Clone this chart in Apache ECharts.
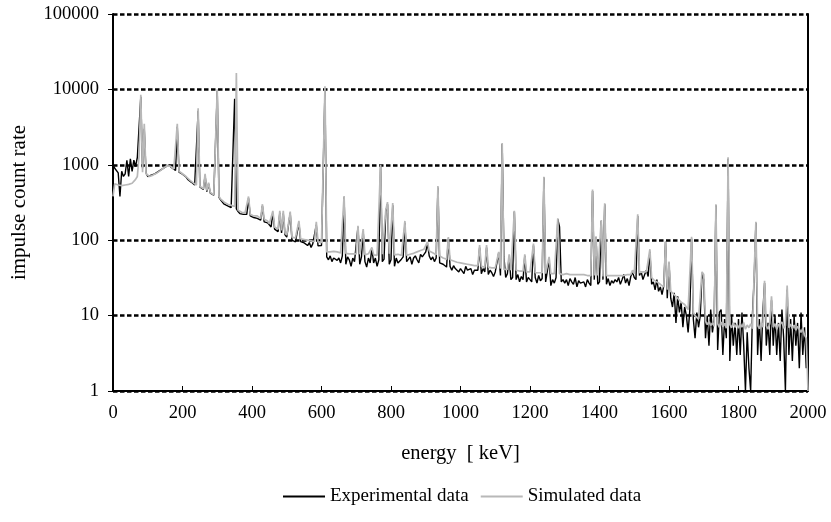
<!DOCTYPE html>
<html><head><meta charset="utf-8">
<script src="https://cdn.jsdelivr.net/npm/echarts@6/dist/echarts.min.js"></script>
<style>html,body{margin:0;padding:0;background:#fff}#c{width:831px;height:522px}</style>
</head><body><div id="c"></div><script>
const energy = [
0,5,10,15,20,25,30,35,40,45,
50,55,60,65,70,75,80,85,90,95,
100,105,110,115,120,125,130,135,140,145,
150,155,160,165,170,175,180,185,190,195,
200,205,210,215,220,225,230,235,240,245,
250,255,260,265,270,275,280,285,290,295,
300,305,310,315,320,325,330,335,340,345,
350,355,360,365,370,375,380,385,390,395,
400,405,410,415,420,425,430,435,440,445,
450,455,460,465,470,475,480,485,490,495,
500,505,510,515,520,525,530,535,540,545,
550,555,560,565,570,575,580,585,590,595,
600,605,610,615,620,625,630,635,640,645,
650,655,660,665,670,675,680,685,690,695,
700,705,710,715,720,725,730,735,740,745,
750,755,760,765,770,775,780,785,790,795,
800,805,810,815,820,825,830,835,840,845,
850,855,860,865,870,875,880,885,890,895,
900,905,910,915,920,925,930,935,940,945,
950,955,960,965,970,975,980,985,990,995,
1000,1005,1010,1015,1020,1025,1030,1035,1040,1045,
1050,1055,1060,1065,1070,1075,1080,1085,1090,1095,
1100,1105,1110,1115,1120,1125,1130,1135,1140,1145,
1150,1155,1160,1165,1170,1175,1180,1185,1190,1195,
1200,1205,1210,1215,1220,1225,1230,1235,1240,1245,
1250,1255,1260,1265,1270,1275,1280,1285,1290,1295,
1300,1305,1310,1315,1320,1325,1330,1335,1340,1345,
1350,1355,1360,1365,1370,1375,1380,1385,1390,1395,
1400,1405,1410,1415,1420,1425,1430,1435,1440,1445,
1450,1455,1460,1465,1470,1475,1480,1485,1490,1495,
1500,1505,1510,1515,1520,1525,1530,1535,1540,1545,
1550,1555,1560,1565,1570,1575,1580,1585,1590,1595,
1600,1605,1610,1615,1620,1625,1630,1635,1640,1645,
1650,1655,1660,1665,1670,1675,1680,1685,1690,1695,
1700,1705,1710,1715,1720,1725,1730,1735,1740,1745,
1750,1755,1760,1765,1770,1775,1780,1785,1790,1795,
1800,1805,1810,1815,1820,1825,1830,1835,1840,1845,
1850,1855,1860,1865,1870,1875,1880,1885,1890,1895,
1900,1905,1910,1915,1920,1925,1930,1935,1940,1945,
1950,1955,1960,1965,1970,1975,1980,1985,1990,1995,
2000];

const experimental = [
1000,900,850,780,380,820,700,760,1150,700,
1200,820,1150,950,1250,1200,8000,900,3000,780,
700,680,730,720,760,760,810,820,870,890,
930,980,990,950,910,870,840,3200,800,780,
750,720,690,640,620,590,560,540,520,5200,
510,480,470,720,440,560,420,400,395,380,
9500,370,340,320,300,300,285,280,270,275,
7500,260,240,225,230,220,215,220,360,210,
210,200,200,195,190,185,285,175,180,170,
160,150,230,140,135,130,230,125,225,118,
110,105,230,100,102,95,100,170,96,98,
92,95,85,93,80,90,88,160,84,86,
85,80,10000,60,55,62,52,58,60,54,
58,50,62,370,48,60,55,45,58,52,
55,150,48,60,130,52,44,58,50,78,
50,58,45,55,950,52,56,240,300,48,
55,290,45,58,50,48,56,60,170,52,
52,60,48,58,62,55,50,65,60,58,
70,90,62,55,60,52,58,500,50,52,
48,50,44,105,45,40,46,42,44,38,
42,44,36,45,40,38,42,35,40,38,
40,80,36,42,38,80,35,40,37,33,
38,36,68,34,1900,60,32,36,60,30,
32,240,30,35,28,33,30,62,28,32,
30,28,85,32,27,34,29,31,680,28,
28,55,25,30,27,32,190,150,28,30,
27,30,25,31,28,26,32,24,29,27,
26,28,24,30,27,25,450,30,110,26,
28,180,30,300,26,31,25,29,27,30,
28,32,26,30,35,27,31,25,33,38,
32,30,210,34,38,30,35,40,33,70,
26,28,22,30,21,24,19,25,95,17,
50,17,13,20,8,18,11,15,7,13,
10,6,12,105,9,5,11,7,10,36,
30,5,10,4,12,6,9,290,3.5,11,
12,3,9,5,1200,2.5,10,4,8,3,
9,3,11,4,1,6,2,1,10,30,
170,3,9,2.5,11,27,4,8,3,16,
4,10,3,8,2.5,12,5,1,22,3,
9,2.5,10,4,8,2,11,3,7,2,
5];

const simulated = [
380,560,550,540,530,530,535,540,545,550,
560,570,590,640,700,1300,8500,800,3500,760,
720,700,710,730,750,770,800,830,860,900,
940,970,1000,960,920,880,850,3500,820,790,
760,730,700,660,630,600,580,555,540,5600,
520,500,480,760,455,580,430,415,400,390,
10000,380,350,330,320,310,300,295,290,285,
280,16500,250,240,235,230,230,225,380,220,
215,210,205,210,200,195,300,190,185,180,
165,160,245,150,145,140,245,135,245,125,
117,114,240,110,108,107,106,180,104,103,
102,101,100,99,98,97,96,175,95,94,
93,92,11000,70,72,70,68,71,69,70,
69,68,70,385,67,68,66,67,66,65,
66,155,65,66,140,64,65,66,64,80,
64,65,63,64,1000,65,64,250,320,66,
65,310,64,63,65,64,63,64,180,63,
64,65,66,67,68,70,72,73,75,76,
78,95,72,70,68,66,64,525,62,60,
58,57,56,110,55,54,53,52,51,50,
50,49,49,48,48,47,47,46,46,46,
46,86,45,45,44,86,44,44,43,43,
43,42,70,42,1930,41,41,41,65,40,
40,245,40,39,39,39,39,65,38,38,
38,37,90,37,37,37,37,37,695,36,
36,60,36,36,36,36,195,36,35,35,
35,36,34,35,36,35,34,35,34,35,
34,35,34,34,34,34,470,34,113,34,
34,185,33,310,34,35,34,33,34,35,
34,35,34,35,34,35,35,34,35,40,
36,35,220,37,36,38,37,38,36,76,
32,30,29,28,27,26,25,24,95,22,
52,21,20,19,18,17,16,15,15,14,
13,12,12,111,11,10,10,9,9,38,
35,8.5,7.6,8.3,7.4,8.0,7.2,300,7.8,7.0,
8.2,7.1,7.9,6.8,1260,7.6,6.9,8.0,7.0,7.7,
6.8,7.9,7.0,8.1,6.6,7.5,6.9,7.8,6.7,34,
175,7.4,6.7,8.0,7.0,29,7.3,6.6,7.9,18,
7.0,7.8,6.6,7.5,7.1,8.2,6.8,7.4,25,6.9,
7.7,6.7,7.5,6.4,7.2,6.6,6.0,6.8,5.5,5.0,
1];

const xAxisName = 'energy  [ keV]';
const yAxisName = 'impulse count rate';
const seriesNames = ['Experimental data', 'Simulated data'];

const FONT = 'Liberation Serif';
const chart = echarts.init(document.getElementById('c'), null, {renderer: 'canvas'});
const option = {
  animation: false,
  backgroundColor: '#fff',
  grid: {left: 113, right: 23, top: 14, bottom: 131, containLabel: false, outerBoundsMode: 'none'},
  legend: {
    left: 283, top: 487, padding: 0, itemWidth: 42, itemHeight: 2, itemGap: 12, icon: 'rect',
    textStyle: {fontFamily: FONT, fontSize: 19, color: '#000'},
    data: [
      {name: seriesNames[0], itemStyle: {color: '#000'}},
      {name: seriesNames[1], itemStyle: {color: '#b8b8b8'}}
    ]
  },
  xAxis: {
    type: 'value', min: 0, max: 2000, interval: 200,
    name: xAxisName, nameLocation: 'middle', nameGap: 52,
    nameTextStyle: {fontFamily: FONT, fontSize: 20.5, color: '#000'},
    axisLine: {show: true, lineStyle: {color: '#000', width: 2}},
    axisTick: {show: true, inside: true, length: 5, lineStyle: {color: '#000', width: 1}},
    axisLabel: {margin: 13, fontFamily: FONT, fontSize: 18.5, color: '#000', formatter: v => String(Math.round(v))},
    splitLine: {show: false}
  },
  yAxis: [{
    type: 'log', logBase: 10, min: 1, max: 100000, interval: 1,
    name: yAxisName, nameLocation: 'middle', nameGap: 83, nameRotate: 90,
    nameTextStyle: {fontFamily: FONT, fontSize: 21, color: '#000'},
    axisLine: {show: true, lineStyle: {color: '#000', width: 2}},
    axisTick: {show: true, inside: false, length: 5, lineStyle: {color: '#000', width: 1}},
    axisLabel: {margin: 14, fontFamily: FONT, fontSize: 18.5, color: '#000', formatter: v => String(Math.round(v))},
    splitLine: {show: true, lineStyle: {color: '#000', width: 2.5, type: [4.5, 2.5]}}
  }, {
    type: 'value', position: 'right', min: 0, max: 1,
    axisLine: {show: true, lineStyle: {color: '#000', width: 2}},
    axisTick: {show: false}, axisLabel: {show: false}, splitLine: {show: false}
  }],
  series: [{
    name: seriesNames[0], type: 'line', yAxisIndex: 0,
    data: energy.map((e, i) => [e, experimental[i]]),
    showSymbol: false, symbol: 'none',
    lineStyle: {color: '#000', width: 1.4}, itemStyle: {color: '#000'}, z: 2
  }, {
    name: seriesNames[1], type: 'line', yAxisIndex: 0,
    data: energy.map((e, i) => [e, simulated[i]]),
    showSymbol: false, symbol: 'none',
    lineStyle: {color: '#b8b8b8', width: 1.7}, itemStyle: {color: '#b8b8b8'}, z: 3
  }]
};
chart.setOption(option);
</script></body></html>
